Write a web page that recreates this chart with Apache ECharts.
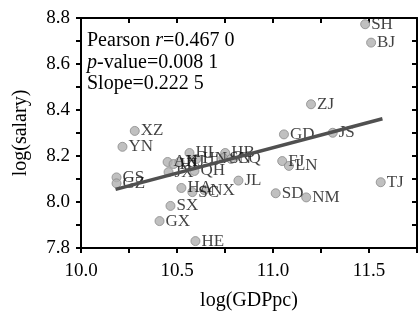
<!DOCTYPE html>
<html>
<head>
<meta charset="utf-8">
<script src="https://cdn.jsdelivr.net/npm/echarts@6/dist/echarts.min.js"></script>
<style>
html,body{margin:0;padding:0;background:#fff;}
#c{width:420px;height:318px;}
</style>
</head>
<body>
<div id="c"></div>
<script>
// Province codes
const provinces = ['SH','BJ','ZJ','GD','JS','FJ','LN','TJ','SD','NM','JL','XZ','YN','GS','GZ','GX','SX','HE',
  'HL','AH','HI','XJ','HN','HB','SN','CQ','JX','QH','HA','SC','NX'];
// log(GDPpc)
const gdp = [11.480,11.511,11.198,11.057,11.311,11.048,11.083,11.561,11.014,11.173,10.820,10.280,10.216,10.185,10.185,10.409,10.466,10.596,
  10.565,10.451,10.482,10.513,10.601,10.751,10.741,10.782,10.456,10.591,10.523,10.580,10.642];
// log(salary)
const salary = [8.773,8.693,8.425,8.294,8.301,8.178,8.157,8.086,8.038,8.020,8.093,8.309,8.240,8.107,8.081,7.917,7.983,7.830,
  8.213,8.174,8.165,8.174,8.187,8.213,8.191,8.187,8.130,8.135,8.061,8.043,8.052];
// Fitted line endpoints
const fitX = [10.18, 11.57];
const fitY = [8.055, 8.362];
const xTicks = ['10.0','10.5','11.0','11.5'];
const yTicks = ['7.8','8.0','8.2','8.4','8.6','8.8'];
const statLines = ['Pearson {i|r}=0.467 0', '{i|p}-value=0.008 1', 'Slope=0.222 5'];

const FONT = 'Liberation Serif';
const chart = echarts.init(document.getElementById('c'), null, {renderer:'canvas'});

const points = provinces.map((p,i)=>({value:[gdp[i], salary[i]], name:p}));
const fit = fitX.map((x,i)=>[x, fitY[i]]);

const axisLine = {show:true, onZero:false, lineStyle:{color:'#000', width:2}};
function xFmt(v){ const k=Math.round(v*4); if(k%2!==0) return ''; const s=(k/4).toFixed(1); return xTicks.indexOf(s)>=0?s:''; }
function yFmt(v){ const k=Math.round(v*10); if(k%2!==0) return ''; const s=(k/10).toFixed(1); return yTicks.indexOf(s)>=0?s:''; }

chart.setOption({
  animation:false,
  backgroundColor:'#fff',
  grid:{left:81, right:3, top:18, bottom:70, containLabel:false},
  xAxis:[
    {type:'value', min:10, max:11.75, interval:0.25, position:'bottom',
     name:'log(GDPpc)', nameLocation:'middle', nameGap:43,
     nameTextStyle:{fontFamily:FONT, fontSize:20, color:'#000'},
     axisLine, axisTick:{show:true, inside:false, length:5, lineStyle:{color:'#000', width:2}},
     axisLabel:{formatter:xFmt, fontFamily:FONT, fontSize:19, color:'#000', margin:14, showMaxLabel:true},
     splitLine:{show:false}},
    {type:'value', min:10, max:11.75, interval:0.25, position:'top',
     axisLine, axisTick:{show:true, inside:true, length:5, lineStyle:{color:'#000', width:2}},
     axisLabel:{show:false}, splitLine:{show:false}}
  ],
  yAxis:[
    {type:'value', min:7.8, max:8.8, interval:0.1, position:'left',
     name:'log(salary)', nameLocation:'middle', nameGap:50,
     nameTextStyle:{fontFamily:FONT, fontSize:20, color:'#000'},
     axisLine, axisTick:{show:true, inside:false, length:5, lineStyle:{color:'#000', width:2}},
     axisLabel:{formatter:yFmt, fontFamily:FONT, fontSize:19, color:'#000', margin:11},
     splitLine:{show:false}},
    {type:'value', min:7.8, max:8.8, interval:0.1, position:'right',
     axisLine, axisTick:{show:true, inside:true, length:5, lineStyle:{color:'#000', width:2}},
     axisLabel:{show:false}, splitLine:{show:false}}
  ],
  series:[
    {type:'scatter', data:points, symbol:'circle', symbolSize:9,
     itemStyle:{color:'#b0b0b0', borderColor:'#8a8a8a', borderWidth:1},
     label:{show:true, position:'right', distance:1, formatter:'{b}',
            fontFamily:FONT, fontSize:17, color:'#111'}},
    {type:'line', data:fit, symbol:'none', lineStyle:{color:'#505050', width:3.5}, z:3}
  ],
  graphic: statLines.map((t,i)=>({
    type:'text', x:87, y:40.7 + i*21.7, z:10,
    style:{text:t, fontFamily:FONT, fontSize:20, fill:'#000', verticalAlign:'middle',
           rich:{i:{fontFamily:FONT, fontSize:20, fontStyle:'italic', fill:'#000'}}}
  }))
});
</script>
</body>
</html>
